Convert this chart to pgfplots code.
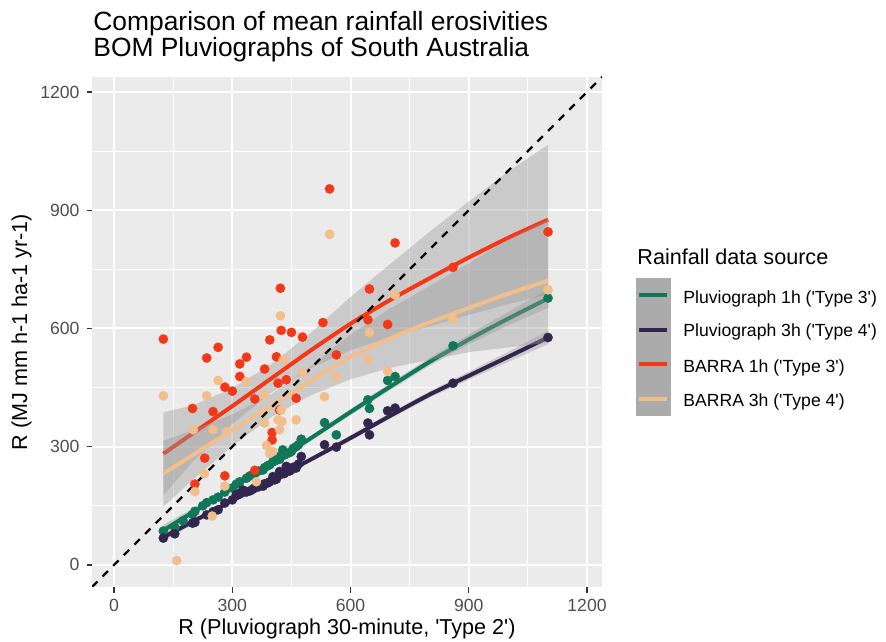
\documentclass[border=0pt]{standalone}
\usepackage{fontspec}
\setmainfont{Liberation Sans}
\usepackage{pgfplots}
\pgfplotsset{compat=1.18}

\definecolor{panel}{HTML}{EBEBEB}
\definecolor{tickgrey}{HTML}{4D4D4D}
\definecolor{tickmark}{HTML}{333333}
\definecolor{bandgrey}{HTML}{999999}
\definecolor{keygrey}{HTML}{ABABAB}
\definecolor{pluvA}{RGB}{17,119,89}
\definecolor{pluvB}{RGB}{51,38,78}
\definecolor{barA}{RGB}{244,55,22}
\definecolor{barB}{RGB}{242,190,140}

\newcommand\ticksize{\fontsize{8.8}{10}\selectfont}
\newcommand\labsize{\fontsize{10.8}{13}\selectfont}
\newcommand\q{\textquotesingle}

\pgfplotsset{
  pts/.style={only marks, mark=*, mark size=2.35pt, mark options={draw=#1, fill=#1, line width=0.1pt}},
  band/.style={draw=none, fill=bandgrey, fill opacity=0.4},
  fit/.style={#1, line width=2pt, smooth, tension=0.4},
}

\begin{document}
\begin{tikzpicture}[every node/.style={inner sep=0pt}]
\path[use as bounding box] (0,0) rectangle (443pt,320.5pt);
\begin{axis}[
  at={(46pt,27pt)}, anchor=south west,
  scale only axis, width=255pt, height=255pt,
  xmin=-56, xmax=1238, ymin=-56, ymax=1238,
  xtick={0,300,...,1200}, ytick={0,300,...,1200},
  minor xtick={150,450,750,1050}, minor ytick={150,450,750,1050},
  grid=both,
  major grid style={white, line width=1pt},
  minor grid style={white, line width=0.5pt},
  axis background/.style={fill=panel},
  axis line style={draw=none},
  tick align=outside, tick pos=left,
  major tick length=2.75pt, minor tick length=0pt,
  tick style={tickmark, line width=0.6pt},
  ticklabel style={font=\ticksize, text=tickgrey, inner sep=0.3333em},
  /pgf/number format/assume math mode=true,
  /pgf/number format/1000 sep={},
]
% station points
\addplot[pts=pluvA] coordinates {
 (125,86) (154,95) (175,112) (199,128) (205,136) (225,150) (235,158) (251,165)
 (264,172) (281,185) (300,195) (310,205) (319,211) (336,220) (345,226) (352,228)
 (357,232) (366,238) (378,241) (382,247) (390,252) (395,254) (403,262) (408,264)
 (412,266) (416,275) (420,268) (428,292) (432,279) (437,282) (445,285) (450,288)
 (455,296) (462,300) (468,305) (475,319) (534,361) (564,330) (644,419) (648,397)
 (694,468) (713,478) (860,556) (1101,677)
};
\addplot[pts=pluvB] coordinates {
 (125,68) (154,79) (199,106) (205,108) (235,127) (251,135) (264,140) (281,157)
 (300,165) (310,178) (319,182) (327,190) (336,185) (345,188) (352,192) (357,196)
 (366,198) (378,200) (382,206) (390,208) (395,211) (403,224) (408,216) (412,218)
 (420,237) (424,230) (432,232) (437,250) (445,238) (450,242) (455,248) (462,246)
 (468,256) (475,275) (534,305) (564,299) (644,360) (648,330) (694,391) (713,398)
 (860,461) (1101,577)
};
\addplot[pts=barA] coordinates {
 (125,573) (199,397) (205,205) (230,271) (235,525) (251,389) (264,552) (281,451)
 (281,226) (300,441) (319,510) (319,478) (336,527) (357,421) (357,240) (382,497)
 (395,571) (401,336) (401,317) (412,528) (416,461) (420,393) (422,702) (424,595)
 (437,470) (450,590) (462,423) (478,578) (530,615) (547,954) (564,533) (644,622)
 (648,700) (694,610) (713,817) (860,755) (1101,845)
};
\addplot[pts=barB] coordinates {
 (125,429) (159,11) (201,343) (205,186) (229,231) (235,429) (249,124) (251,343)
 (264,468) (281,200) (285,338) (336,465) (361,211) (382,431) (382,360) (387,303)
 (395,283) (403,288) (416,368) (420,343) (422,632) (424,393) (426,364) (429,520)
 (462,368) (479,487) (534,427) (547,839) (564,478) (644,523) (648,590) (694,491)
 (713,685) (860,623) (1101,698)
};
% loess fits with confidence bands
\addplot[band] coordinates {
 (125,102) (200,143) (300,202) (400,263) (500,328) (600,396) (700,461) (800,525) (900,584) (1000,642) (1101,700)
 (1101,652) (1000,608) (900,560) (800,505) (700,443) (600,380) (500,316) (400,253) (300,190) (200,125) (125,74)
};
\addplot[fit=pluvA] coordinates {
 (125,88) (200,134) (300,196) (400,258) (500,322) (600,388) (700,452) (800,515) (900,572) (1000,625) (1101,676)
};
\addplot[band] coordinates {
 (125,80) (200,117) (300,168) (400,219) (500,273) (600,328) (700,385) (800,440) (900,490) (1000,541) (1101,594)
 (1101,560) (1000,515) (900,470) (800,424) (700,371) (600,316) (500,263) (400,211) (300,158) (200,103) (125,60)
};
\addplot[fit=pluvB] coordinates {
 (125,70) (200,110) (300,163) (400,215) (500,268) (600,322) (700,378) (800,432) (900,480) (1000,528) (1101,577)
};
\addplot[band] coordinates {
 (125,387) (200,405) (300,448) (400,510) (500,590) (600,680) (700,763) (800,845) (900,922) (1000,998) (1101,1066)
 (1101,686) (1000,662) (900,634) (800,605) (700,578) (600,545) (500,500) (400,438) (300,358) (200,263) (125,177)
};
\addplot[fit=barA] coordinates {
 (125,282) (200,334) (300,403) (400,474) (500,545) (600,612) (700,672) (800,727) (900,780) (1000,830) (1101,876)
};
\addplot[band] coordinates {
 (125,315) (200,342) (300,382) (400,434) (500,505) (600,585) (700,650) (800,707) (900,765) (1000,826) (1101,877)
 (1101,564) (1000,552) (900,540) (800,520) (700,500) (600,471) (500,431) (400,376) (300,302) (200,216) (125,148)
};
\addplot[fit=barB] coordinates {
 (125,232) (200,279) (300,342) (400,405) (500,468) (600,528) (700,575) (800,615) (900,652) (1000,688) (1101,721)
};
% 1:1 line
\addplot[black, line width=1.1pt, dash pattern=on 3.8pt off 3.7pt] coordinates {(-56,-56) (1238,1238)};
\end{axis}

% titles
\node[anchor=base west, font=\fontsize{13.2}{15}\selectfont] at (46.5pt,305pt) {Comparison of mean rainfall erosivities};
\node[anchor=base west, font=\fontsize{13.2}{15}\selectfont] at (46.5pt,292pt) {BOM Pluviographs of South Australia};
\node[anchor=base, font=\labsize] at (173.5pt,3.3pt) {R (Pluviograph 30-minute, \q Type 2\q)};
\node[anchor=base, rotate=90, font=\labsize] at (13.5pt,154.5pt) {R (MJ mm h-1 ha-1 yr-1)};

% legend
\node[anchor=base west, font=\labsize] at (318.5pt,188pt) {Rainfall data source};
\fill[keygrey] (318pt,112.5pt) rectangle (335.5pt,181.5pt);
\draw[pluvA, line width=2pt] (319.5pt,172.9pt) -- (333.5pt,172.9pt);
\draw[pluvB, line width=2pt] (319.5pt,155.6pt) -- (333.5pt,155.6pt);
\draw[barA, line width=2pt] (319.5pt,138.4pt) -- (333.5pt,138.4pt);
\draw[barB, line width=2pt] (319.5pt,121.1pt) -- (333.5pt,121.1pt);
\node[anchor=base west, font=\ticksize] at (341.5pt,168.75pt) {Pluviograph 1h (\q Type 3\q)};
\node[anchor=base west, font=\ticksize] at (341.5pt,152.25pt) {Pluviograph 3h (\q Type 4\q)};
\node[anchor=base west, font=\ticksize] at (341.5pt,134.25pt) {BARRA 1h (\q Type 3\q)};
\node[anchor=base west, font=\ticksize] at (341.5pt,117.25pt) {BARRA 3h (\q Type 4\q)};
\end{tikzpicture}
\end{document}
